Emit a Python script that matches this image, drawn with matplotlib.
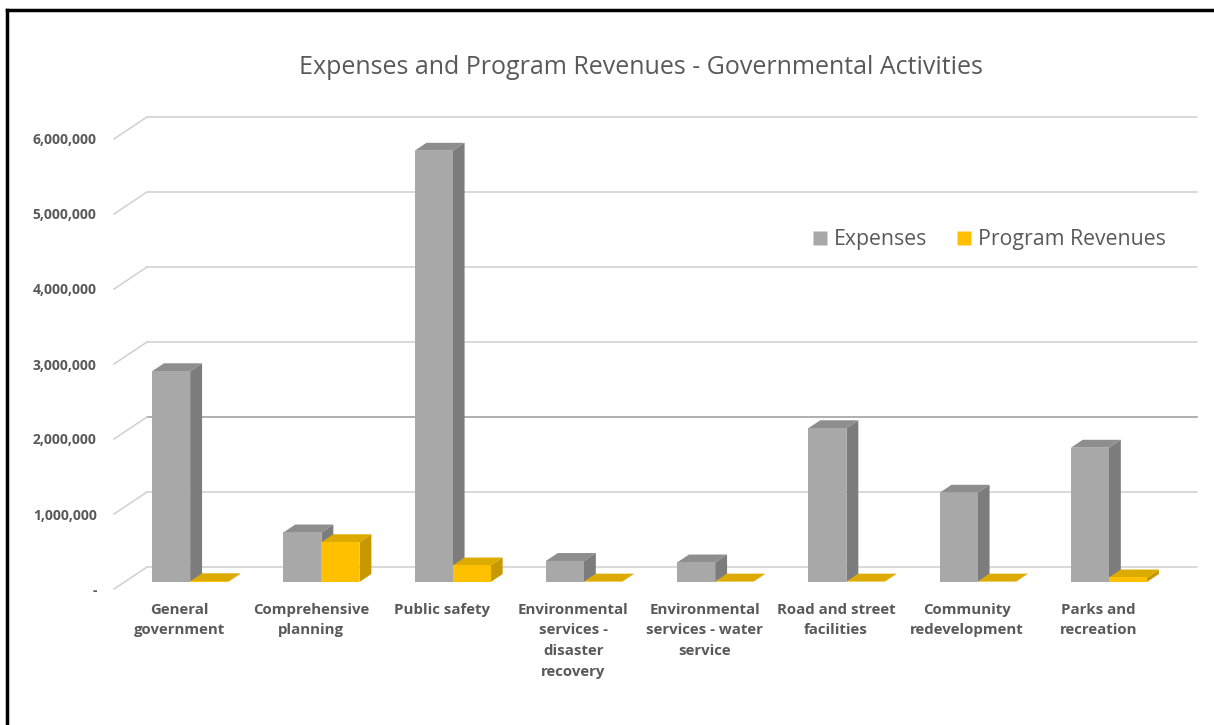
import matplotlib
matplotlib.use("Agg")
import matplotlib.pyplot as plt
from matplotlib.patches import Polygon, Rectangle
from matplotlib.lines import Line2D
from matplotlib.ticker import FuncFormatter

# ---- data -------------------------------------------------------------
categories = [
    "General\ngovernment",
    "Comprehensive\nplanning",
    "Public safety",
    "Environmental\nservices -\ndisaster\nrecovery",
    "Environmental\nservices - water\nservice",
    "Road and street\nfacilities",
    "Community\nredevelopment",
    "Parks and\nrecreation",
]
expenses = [2810000, 660000, 5750000, 280000, 260000, 2050000, 1190000, 1790000]
program_revenues = [10000, 530000, 220000, 5000, 5000, 5000, 5000, 60000]
series_names = ["Expenses", "Program Revenues"]
y_ticks = [0, 1000000, 2000000, 3000000, 4000000, 5000000, 6000000]
title = "Expenses and Program Revenues - Governmental Activities"

# ---- styling ----------------------------------------------------------
FONT = ["Open Sans", "DejaVu Sans"]
TEXT_GREY = "#595959"
GRID = "#D0D0D0"
GRID_DARK = "#9A9A9A"
faces = {
    "Expenses": dict(front="#A8A8A8", side="#7C7C7C", top="#8E8E8E"),
    "Program Revenues": dict(front="#FFC000", side="#C79800", top="#DDAA00"),
}

W, H, DPI = 1214, 725, 100
fig = plt.figure(figsize=(W / DPI, H / DPI), dpi=DPI)
plt.rcParams["font.family"] = FONT

# the axes span the front plane of the 3-D box
ax = fig.add_axes([114 / W, 136 / H, 1050 / W, 450 / H])
n = len(categories)
ax.set_xlim(-0.5, n - 0.5)
ax.set_ylim(0, 6000000)
for s in ax.spines.values():
    s.set_visible(False)

# pixel -> data conversions for the oblique depth offsets
px_per_cat = 1050 / n
px_per_val = 450 / 6000000
floor_dx = 33 / px_per_cat          # depth of the floor (category units)
floor_dy = 22 / px_per_val          # depth of the floor (value units)
bar_front = 0.32                    # fraction of floor depth where bars start
bar_depth = 0.36                    # fraction of floor depth the bars occupy
bar_w = 0.29

# back-wall gridlines and left-wall diagonals
x0, x1 = -0.5, n - 0.5
for v in y_ticks:
    col = GRID_DARK if v == 2000000 else GRID
    ax.plot([x0 + floor_dx, x1 + floor_dx], [v + floor_dy, v + floor_dy],
            color=col, lw=1.1, clip_on=False, zorder=1)
    ax.plot([x0, x0 + floor_dx], [v, v + floor_dy],
            color=GRID, lw=1.1, clip_on=False, zorder=1)


def draw_box(xl, w, h, style, z):
    ox = bar_front * floor_dx
    oy = bar_front * floor_dy
    dx = bar_depth * floor_dx
    dy = bar_depth * floor_dy
    xl = xl + ox
    xr = xl + w
    yb = oy
    yt = oy + h
    front = Rectangle((xl, yb), w, h, facecolor=style["front"], edgecolor="none",
                      clip_on=False, zorder=z)
    side = Polygon([(xr, yb), (xr + dx, yb + dy), (xr + dx, yt + dy), (xr, yt)],
                   closed=True, facecolor=style["side"], edgecolor="none",
                   clip_on=False, zorder=z)
    top = Polygon([(xl, yt), (xl + dx, yt + dy), (xr + dx, yt + dy), (xr, yt)],
                  closed=True, facecolor=style["top"], edgecolor="none",
                  clip_on=False, zorder=z)
    for p in (side, top, front):
        ax.add_patch(p)


for i in range(n):
    draw_box(i - bar_w, bar_w, expenses[i], faces["Expenses"], 3 + i * 0.01)
    draw_box(i, bar_w, program_revenues[i], faces["Program Revenues"], 3.005 + i * 0.01)

# axis labels
ax.set_yticks(y_ticks)
ax.yaxis.set_major_formatter(FuncFormatter(lambda v, p: "-" if v == 0 else f"{int(v):,}"))
ax.tick_params(axis="y", length=0, pad=12.5, labelsize=10, labelcolor=TEXT_GREY)
for t in ax.get_yticklabels():
    t.set_fontweight("bold")

ax.set_xticks(range(n))
ax.set_xticklabels(categories, fontsize=10.8, fontweight="bold", color=TEXT_GREY,
                   linespacing=1.6, va="top", ha="center")
ax.tick_params(axis="x", length=0, pad=10)

# title
fig.text(641 / W, 1 - 67 / H, title, ha="center", va="center",
         fontsize=18, color=TEXT_GREY)

# legend
handles = [Line2D([], [], marker="s", ls="none", markersize=10,
                  markerfacecolor=faces[s]["front"], markeredgecolor="none")
           for s in series_names]
fig.legend(handles, series_names, loc="center", ncol=2,
           bbox_to_anchor=(988 / W, 1 - 240 / H), frameon=False,
           fontsize=15.3, labelcolor=TEXT_GREY, handletextpad=0.2,
           columnspacing=1.3, handlelength=0.9)

# chart frame (top and left edges)
fig.add_artist(Line2D([7 / W, 7 / W], [0, 1 - 10 / H], color="black", lw=2.5,
                      transform=fig.transFigure))
fig.add_artist(Line2D([7 / W, 1], [1 - 10 / H, 1 - 10 / H], color="black", lw=2.5,
                      transform=fig.transFigure))

fig.savefig("out.png", dpi=DPI, facecolor="white")
